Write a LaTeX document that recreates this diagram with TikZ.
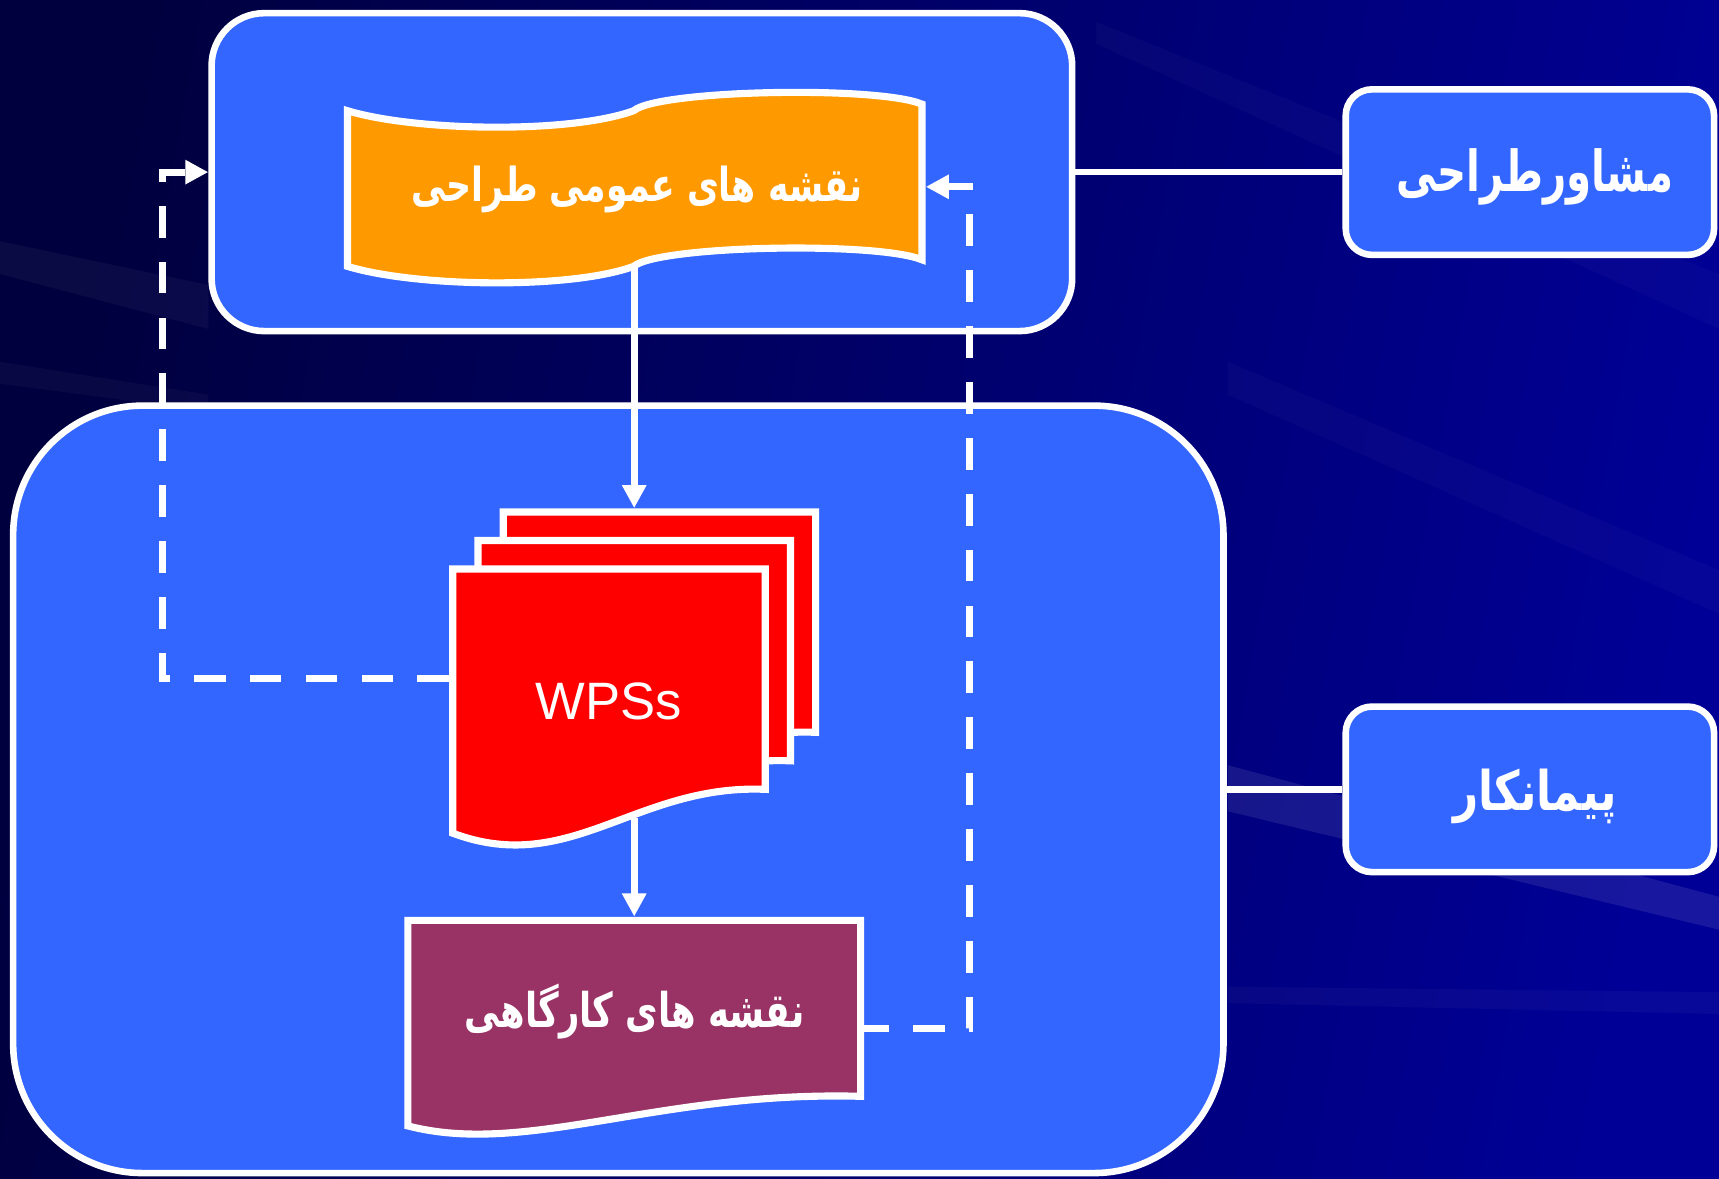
\documentclass[tikz,border=0pt]{standalone}
\usepackage{fontspec}
\usepackage{graphicx}
\setmainfont{Liberation Sans}
\newfontfamily\arabicfont[Script=Arabic]{DejaVu Sans}
\TeXXeTstate=1
\usetikzlibrary{arrows.meta}
\definecolor{bgdark}{RGB}{0,0,62}
\definecolor{bglight}{RGB}{0,0,150}
\definecolor{boxblue}{HTML}{3366FF}
\definecolor{tapeorange}{HTML}{FF9900}
\definecolor{sheetred}{HTML}{FF0000}
\definecolor{docpurple}{HTML}{993366}
\newcommand{\fatext}[3]{\scalebox{1}[#2]{\resizebox{#1}{!}{\arabicfont\bfseries #3}}}
\begin{document}
\begin{tikzpicture}[x=1pt,y=-1pt,
  panel/.style={draw=white, line width=6pt, fill=boxblue, inner sep=0pt},
  wline/.style={draw=white, line width=6pt},
  arr/.style={draw=white, line width=6pt, -{Triangle[length=21pt,width=21pt]}},
  dasharr/.style={draw=white, line width=6.5pt, dash pattern=on 29pt off 22pt, -{Triangle[length=21pt,width=21pt]}},
  shapeline/.style={draw=white, line width=6.5pt, line join=miter},
  label/.style={text=white, inner sep=0pt}
]
\useasboundingbox (0,0) rectangle (1568,1075);
% background
\shade[left color=bgdark, right color=bglight, shading angle=80] (0,0) rectangle (1568,1075);
\fill[white, opacity=0.04] (0,220) -- (190,260) -- (190,300) -- (0,250) -- cycle;
\fill[white, opacity=0.03] (0,330) -- (190,360) -- (190,375) -- (0,350) -- cycle;
\fill[white, opacity=0.025] (1000,20) -- (1568,250) -- (1568,300) -- (1000,40) -- cycle;
\fill[white, opacity=0.025] (1120,330) -- (1568,520) -- (1568,560) -- (1120,360) -- cycle;
\fill[white, opacity=0.09] (1120,698) -- (1568,818) -- (1568,848) -- (1120,740) -- cycle;
\fill[white, opacity=0.03] (1120,900) -- (1568,905) -- (1568,925) -- (1120,915) -- cycle;

% panels
\node[panel, rounded corners=48pt, minimum width=785pt, minimum height=290pt] (top) at (585.5,157) {};
\node[panel, rounded corners=118pt, minimum width=1104pt, minimum height=700pt] (big) at (564,720) {};
\node[panel, rounded corners=24pt, minimum width=336pt, minimum height=151pt] (r1) at (1395.5,157) {};
\node[panel, rounded corners=24pt, minimum width=336pt, minimum height=151pt] (r2) at (1395.5,720) {};
\node[label] (r1t) at (1400,161) {\fatext{252pt}{1.4}{\beginR مشاورطراحی\endR}};
\node[label] (r2t) at (1400,726) {\fatext{149pt}{1.25}{\beginR پیمانکار\endR}};
\draw[wline] (top.east) -- (r1.west);
\draw[wline] (big.east) -- (r2.west);

% tape
\path[shapeline, fill=tapeorange]
  (317,101) .. controls (380,120) and (520,122) .. (578,101)
  .. controls (600,82) and (800,78) .. (841,95)
  -- (841,237) .. controls (800,220) and (600,224) .. (578,243)
  .. controls (520,264) and (380,262) .. (317,243) -- cycle;
\node[label] (tape) at (581,173) {\fatext{411pt}{1.35}{\beginR نقشه های عمومی طراحی\endR}};
\coordinate (tapeS) at (578.5,243);
\coordinate (tapeE) at (844.5,170.4);

% stacked sheets
\begin{scope}[shift={(46,-52)}]
\path[shapeline, fill=sheetred] (413,519) -- (698,519) -- (698,720) .. controls (580,715) and (520,800) .. (413,760) -- cycle;
\end{scope}
\begin{scope}[shift={(23,-26)}]
\path[shapeline, fill=sheetred] (413,519) -- (698,519) -- (698,720) .. controls (580,715) and (520,800) .. (413,760) -- cycle;
\end{scope}
\path[shapeline, fill=sheetred] (413,519) -- (698,519) -- (698,720) .. controls (580,715) and (520,800) .. (413,760) -- cycle;
\node[label, font=\fontsize{48}{48}\selectfont] (wps) at (555,639.5) {WPSs};
\coordinate (backN) at (578.5,463.5);
\coordinate (frontS) at (578.5,746);
\coordinate (frontW) at (409.75,618.5);

% shop drawings document
\path[shapeline, fill=docpurple] (372,839.5) -- (785,839.5) -- (785,1000) .. controls (600,995) and (480,1055) .. (372,1027) -- cycle;
\node[label] (shop) at (579,923) {\fatext{310pt}{1.35}{\beginR نقشه های کارگاهی\endR}};
\coordinate (shopN) at (578.5,836);
\coordinate (shopE) at (781.75,937.8);

% connectors
\draw[arr] (tapeS) -- (backN);
\draw[arr] (frontS) -- (shopN);
\draw[dasharr] (frontW) -- (148.6,618.5) -- (148.6,157) -- (top.west);
\draw[dasharr] (shopE) -- (884.3,937.8) -- (884.3,170.4) -- (tapeE);
\end{tikzpicture}
\end{document}
